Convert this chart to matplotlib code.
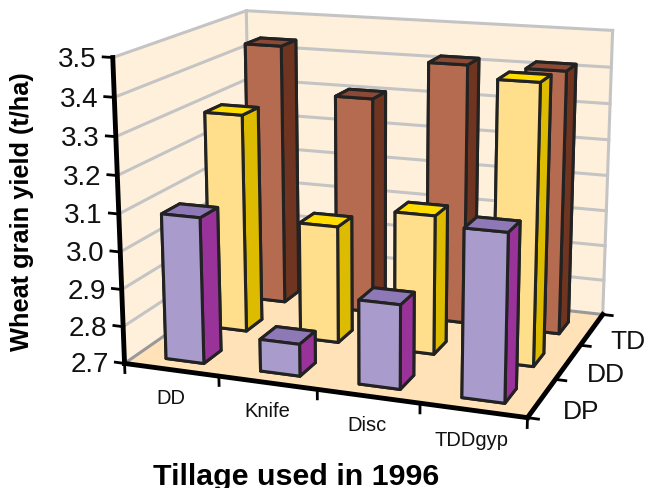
import numpy as np
import matplotlib
matplotlib.use('Agg')
import matplotlib.pyplot as plt
from mpl_toolkits.mplot3d import proj3d
from mpl_toolkits.mplot3d.art3d import Poly3DCollection, Line3DCollection

plt.rcParams['font.family'] = ['Liberation Sans', 'DejaVu Sans']

tillage = ['DD', 'Knife', 'Disc', 'TDDgyp']
systems = ['DP', 'DD', 'TD']
yield_dp = [3.09, 2.785, 2.92, 3.13]
yield_dd = [3.30, 3.02, 3.075, 3.44]
yield_td = [3.44, 3.31, 3.42, 3.42]
z_ticks = [2.7, 2.8, 2.9, 3.0, 3.1, 3.2, 3.3, 3.4, 3.5]

# colours per series: top, front, side
colours = {'DP': ('#8E78B5', '#A99CCC', '#993399'),
           'DD': ('#FFDD00', '#FFDF8C', '#DDBB00'),
           'TD': ('#8A4A35', '#B56B50', '#703520')}

# box corners in the picture, used to set up the perspective
x0, x1, y0, y1, z0, z1 = 0, 4, 0, 3, 2.7, 3.5
box = [(x0, y0, z0, 125, 365), (x0, y0, z1, 113, 58),
       (x1, y0, z0, 527, 419), (x1, y0, z1, 535, 86),
       (x1, y1, z0, 603, 315), (x1, y1, z1, 613, 32),
       (x0, y1, z0, 251, 276), (x0, y1, z1, 246, 12)]
rows = []
for x, y, z, u, v in box:
    rows.append([x, y, z, 1, 0, 0, 0, 0, -u*x, -u*y, -u*z, -u])
    rows.append([0, 0, 0, 0, x, y, z, 1, -v*x, -v*y, -v*z, -v])
P = np.linalg.svd(np.array(rows, float))[2][-1].reshape(3, 4)
P = P / (P[2] @ [2, 1.5, 3.1, 1])
M = np.array([P[0], P[1], [-0.3, 1, -1, 2.7], P[2]])

fig = plt.figure(figsize=(6.46, 4.89), dpi=100)
ax = fig.add_axes([0, 0, 1, 1], projection='3d', computed_zorder=False)
ax.set_xticks([])
ax.set_yticks([])
ax.set_zticks([])
ax.set_axis_off()
ax.get_proj = lambda: M
ax.apply_aspect = lambda position=None: None
ax.viewLim.intervalx = (0, 646)
ax.viewLim.intervaly = (489, 0)


def line(xs, ys, zs, color, lw, zorder):
    seg = [list(zip(xs, ys, zs))]
    ax.add_collection3d(Line3DCollection(seg, colors=color, linewidths=lw, zorder=zorder,
                                         capstyle='projecting'), autolim=False)


def label(x, y, z, s, **kw):
    px, py, _ = proj3d.proj_transform(x, y, z, M)
    ax.text2D(float(px), float(py), s, transform=ax.transData, color='#111111', zorder=60, **kw)


# walls and floor
wall = '#FFF0DC'
ax.add_collection3d(Poly3DCollection([[(x0, y0, z0), (x0, y1, z0), (x0, y1, z1), (x0, y0, z1)]],
                                     facecolor=wall, edgecolor='none', zorder=1), autolim=False)
ax.add_collection3d(Poly3DCollection([[(x0, y1, z0), (x1, y1, z0), (x1, y1, z1), (x0, y1, z1)]],
                                     facecolor=wall, edgecolor='none', zorder=1), autolim=False)
ax.add_collection3d(Poly3DCollection([[(x0, y0, z0), (x1, y0, z0), (x1, y1, z0), (x0, y1, z0)]],
                                     facecolor='#FFE2B8', edgecolor='none', zorder=1), autolim=False)
for z in z_ticks:
    c = '#999999' if z == z0 else '#C4C4C4'
    line([x0, x0, x1], [y0, y1, y1], [z, z, z], c, 2.2, 2)
line([x0, x0], [y1, y1], [z0, z1], '#C4C4C4', 2.2, 2)
line([x1, x1], [y1, y1], [z0, z1], '#C4C4C4', 2.2, 2)

# bars, back row first
series = [('TD', yield_td, 2), ('DD', yield_dd, 1), ('DP', yield_dp, 0)]
order = 3
for name, vals, row in series:
    top, front, side = colours[name]
    for i, v in enumerate(vals):
        ax.bar3d(i + 0.315, row + 0.26, z0, 0.405, 0.39, v - z0,
                 color=[top, top, front, front, side, side],
                 edgecolor='#222222', linewidth=2.2, shade=False, zorder=order)
        order += 1

# axes lines and ticks
line([x0, x0], [y0, y0], [z0, z1], 'k', 3.5, 50)
line([x0, x1], [y0, y0], [z0, z0], 'k', 3.5, 50)
line([x1, x1], [y0, y1], [z0, z0], 'k', 3.5, 50)
for z in z_ticks:
    line([x0 - 0.1, x0], [y0, y0], [z, z], 'k', 2, 50)
    label(x0 - 0.17, y0, z, f'{z:.1f}', fontsize=20, ha='right', va='center_baseline')
for i in range(5):
    line([i, i], [y0, y0], [z0, z0 - 0.025], 'k', 2, 50)
for j in range(4):
    line([x1, x1 + 0.1], [j, j], [z0, z0], 'k', 2, 50)
for i, t in enumerate(tillage):
    label(i + 0.49, y0, z0 - 0.075, t, fontsize=14.5, ha='center', va='center')
for j, s in enumerate(systems):
    label(x1 + 0.37, j + 0.5, z0 - 0.02, s, fontsize=19, ha='center', va='center')

fig.text(22 / 646, 1 - 212 / 489, 'Wheat grain yield (t/ha)', rotation=90, fontsize=18.3, fontweight='bold',
         ha='center', va='center')
fig.text(296 / 646, 1 - 477 / 489, 'Tillage used in 1996', fontsize=21.9, fontweight='bold',
         ha='center', va='center')

fig.savefig('out.png', dpi=100)
